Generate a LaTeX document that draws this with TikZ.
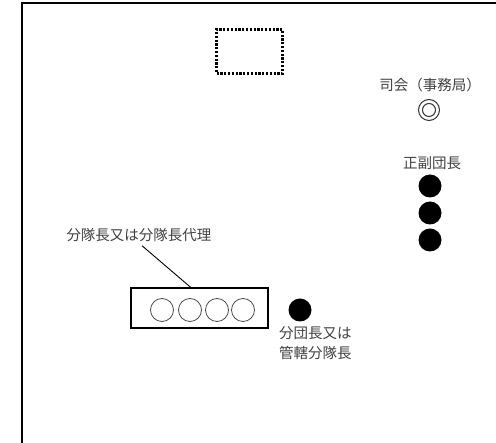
\documentclass[tikz,border=0pt]{standalone}
\usepackage{fontspec}
\newfontfamily\jpfont{Noto Sans CJK JP}
\usepackage{tikz}
\usetikzlibrary{positioning,calc}

\begin{document}
\begin{tikzpicture}[x=1pt,y=-1pt,
	every node/.style={inner sep=0pt, outer sep=0pt},
	lbl/.style={font=\jpfont\fontsize{14.5}{20}\selectfont, text=black!75, align=left},
	seat/.style={circle, fill=black, minimum size=23pt},
	chair/.style={circle, draw=black!70, line width=0.8pt, minimum size=23pt},
	frame/.style={line width=2pt}]
	\useasboundingbox (0,0) rectangle (496,443);
	\draw[frame] (22,443) -- (22,3) -- (496,3);
	\node[draw, dash pattern=on 2.2pt off 1.6pt, line width=2.2pt, minimum width=66pt, minimum height=44pt] (podium) at (249.5,51.5) {};
	\node[lbl] (mclbl) at (430,85) {司会（事務局）};
	\node[circle, draw=black!80, line width=1pt, minimum size=21pt] (mc) at (429,110) {};
	\node[circle, draw=black!80, line width=1pt, minimum size=13pt] at (mc) {};
	\node[lbl] (headlbl) at (432,163) {正副団長};
	\node[seat] (head1) at (430,186) {};
	\node[seat] (head2) at (430,213) {};
	\node[seat] (head3) at (430,240) {};
	\node[draw, line width=2pt, minimum width=137pt, minimum height=40pt] (row) at (199,308.5) {};
	\foreach \x [count=\i] in {162,190,217,243}
		\node[chair] (c\i) at (\x,310) {};
	\node[lbl] (rowlbl) at (139,235) {分隊長又は分隊長代理};
	\draw[line width=0.9pt] ([xshift=3pt,yshift=-4pt]rowlbl.south) -- ([xshift=-7pt]row.north);
	\node[seat] (chief) at (300,310) {};
	\node[lbl, anchor=north west] (chieflbl) at (279,327) {分団長又は\\管轄分隊長};
\end{tikzpicture}
\end{document}
